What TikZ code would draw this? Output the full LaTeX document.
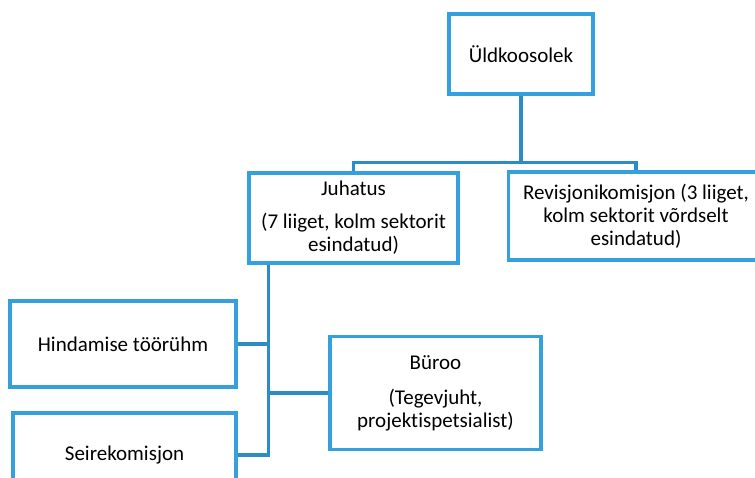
\documentclass[tikz,border=0pt]{standalone}
\usepackage{fontspec}
\setmainfont{Carlito}[Ligatures=NoCommon]
\usepackage{xcolor}
\usepackage{tikz}
\definecolor{boxblue}{RGB}{52,161,222}
\definecolor{lineblue}{RGB}{43,140,200}

\tikzset{
  orgbox/.style={draw=boxblue,line width=3.2pt,fill=white,align=center,inner sep=0pt,
    font=\fontsize{21}{23}\selectfont},
  orgline/.style={draw=lineblue,line width=3.2pt}
}

\begin{document}
\begin{tikzpicture}[x=1pt,y=-1pt]
\useasboundingbox (0,0) rectangle (755,477);
\clip (0,0) rectangle (755,477);
\node[orgbox,minimum width=144pt,minimum height=80pt] (yld) at (521,54) {Üldkoosolek};
\node[orgbox,minimum width=209pt,minimum height=90pt] (juhatus) at (353.5,218) {Juhatus\\[10pt](7 liiget, kolm sektorit\\esindatud)};
\node[orgbox,minimum width=255pt,minimum height=88pt] (revisjon) at (636,216) {Revisjonikomisjon (3 liiget,\\kolm sektorit võrdselt\\esindatud)};
\node[orgbox,minimum width=226pt,minimum height=86pt] (hindamine) at (123,344) {Hindamise töörühm};
\node[orgbox,minimum width=223pt,minimum height=84pt] (seire) at (124.5,455) {Seirekomisjon};
\node[orgbox,minimum width=211pt,minimum height=113pt] (buroo) at (435.5,393) {Büroo\\[12pt](Tegevjuht,\\projektispetsialist)};
% connectors
\coordinate (fork) at ([yshift=-67pt]yld.south);
\coordinate (trunk) at ([xshift=21pt]juhatus.south west);
\draw[orgline] (yld.south) -- (fork);
\draw[orgline] (fork) -| (juhatus.north);
\draw[orgline] (fork) -| (revisjon.north);
\draw[orgline] (trunk) |- (seire.east);
\draw[orgline] (hindamine.east) -| (trunk);
\draw[orgline] (buroo.west) -| (trunk);
\end{tikzpicture}
\end{document}
